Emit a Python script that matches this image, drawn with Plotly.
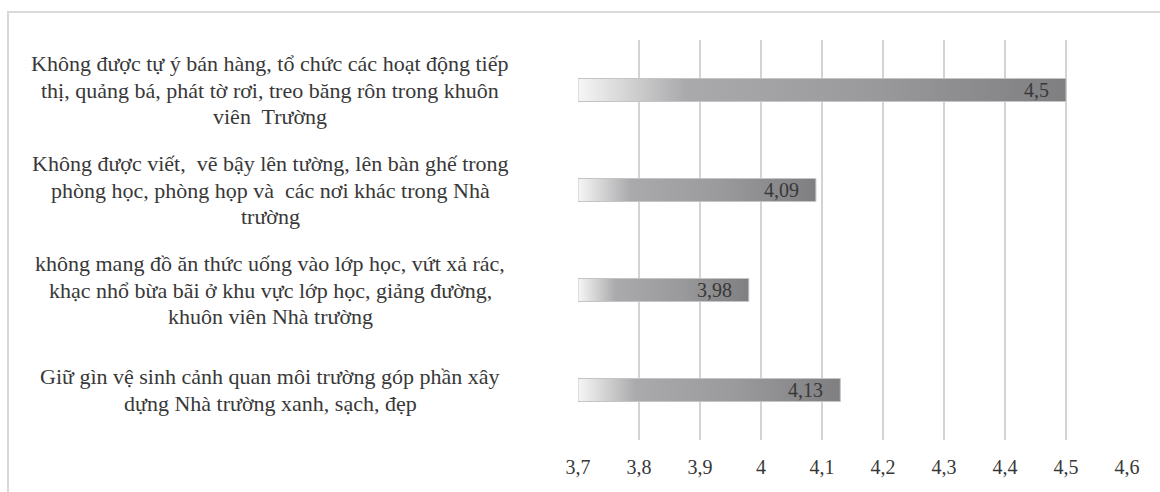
import plotly.graph_objects as go

# ---- data ----
categories = [
    "Không được tự ý bán hàng, tổ chức các hoạt động tiếp<br>thị, quảng bá, phát tờ rơi, treo băng rôn trong khuôn<br>viên  Trường",
    "Không được viết,  vẽ bậy lên tường, lên bàn ghế trong<br>phòng học, phòng họp và  các nơi khác trong Nhà<br>trường",
    "không mang đồ ăn thức uống vào lớp học, vứt xả rác,<br>khạc nhổ bừa bãi ở khu vực lớp học, giảng đường,<br>khuôn viên Nhà trường",
    "Giữ gìn vệ sinh cảnh quan môi trường góp phần xây<br>dựng Nhà trường xanh, sạch, đẹp",
]
values = [4.5, 4.09, 3.98, 4.13]
tick_values = [3.7, 3.8, 3.9, 4.0, 4.1, 4.2, 4.3, 4.4, 4.5, 4.6]
tick_labels = ["3,7", "3,8", "3,9", "4", "4,1", "4,2", "4,3", "4,4", "4,5", "4,6"]
axis_min = 3.7
axis_max = 4.6

FONT = "Liberation Serif, Times New Roman, serif"
TXT = "#383838"
half = 0.115
n = len(categories)
LINE_H = 26.7

fig = go.Figure()
annotations = []
for k, (cat, v) in enumerate(zip(categories, values)):
    yc = n - 1 - k  # top to bottom
    fig.add_trace(go.Scatter(
        x=[axis_min, v, v, axis_min, axis_min],
        y=[yc - half, yc - half, yc + half, yc + half, yc - half],
        mode="lines",
        fill="toself",
        line=dict(color="#c4c4c6", width=1),
        fillgradient=dict(
            type="horizontal",
            colorscale=[[0, "#f6f6f6"], [0.1, "#d4d4d5"], [0.22, "#aaaaac"],
                        [0.6, "#9a9a9c"], [1, "#7f7f82"]],
        ),
        hoverinfo="skip",
        showlegend=False,
    ))
    annotations.append(dict(
        x=v, y=yc, xref="x", yref="y", text=str(v).replace(".", ","),
        showarrow=False, xanchor="right", xshift=-15,
        font=dict(family=FONT, size=20, color=TXT),
    ))
    lines = cat.split("<br>")
    mid = (len(lines) - 1) / 2
    for j, ln in enumerate(lines):
        annotations.append(dict(
            x=-0.561, y=yc, xref="paper", yref="y", text=ln,
            showarrow=False, xanchor="center", yanchor="middle", align="center",
            yshift=(mid - j) * LINE_H,
            font=dict(family=FONT, size=22, color=TXT),
        ))

fig.update_layout(
    width=1160, height=492,
    margin=dict(l=578, r=33, t=40, b=52),
    paper_bgcolor="white", plot_bgcolor="white",
    annotations=annotations,
    xaxis=dict(
        range=[axis_min, axis_max], tickvals=tick_values, ticktext=tick_labels,
        showgrid=True, gridcolor="#d3d3d3", gridwidth=2, zeroline=False,
        showline=False, ticks="", ticklabelstandoff=13,
        tickfont=dict(family=FONT, size=20, color=TXT),
    ),
    yaxis=dict(
        range=[-0.5, n - 0.5], showticklabels=False, showgrid=False,
        zeroline=False, showline=False,
    ),
    shapes=[dict(
        type="rect", xref="paper", yref="paper",
        x0=(8 - 578) / 549, x1=(1170 - 578) / 549,
        y0=(440 - 510) / 400, y1=1 + 28 / 400,
        line=dict(color="#d9d9d9", width=2), fillcolor="rgba(0,0,0,0)", layer="below",
    )],
)

fig.write_html("out.html")
